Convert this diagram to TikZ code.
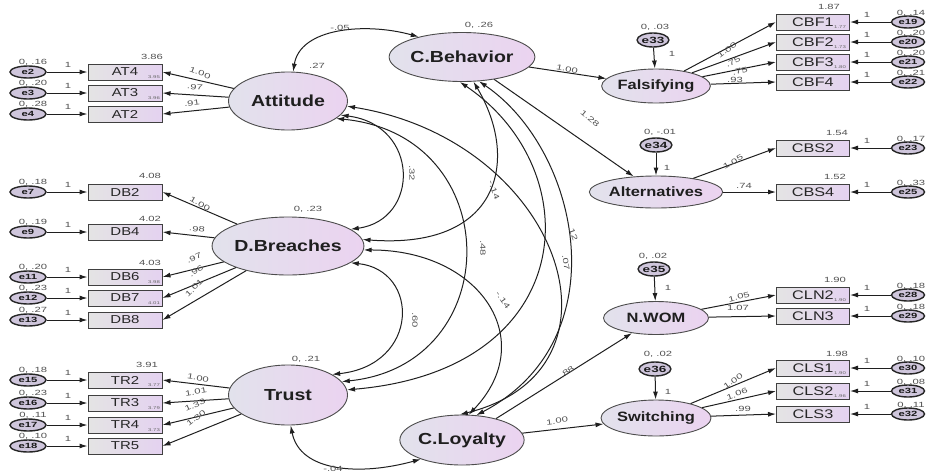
\documentclass[tikz,border=0pt]{standalone}
\usepackage{fontspec}
\setmainfont{Liberation Sans}
\newfontfamily\latfont[FakeStretch=1.22]{Liberation Sans}
\newfontfamily\boxfont[FakeStretch=1.3]{Liberation Sans}
\newfontfamily\numfont[FakeStretch=1.5]{Liberation Sans}
\usetikzlibrary{shapes.geometric,arrows.meta}
\definecolor{latL}{HTML}{E2E2EC}
\definecolor{latR}{HTML}{EBD3F0}
\definecolor{boxL}{HTML}{E4E4E4}
\definecolor{boxR}{HTML}{E4D2F0}
\definecolor{errfill}{HTML}{CFC6DC}
\begin{document}
\begin{tikzpicture}[x=1pt,y=-1pt,
  latent/.style={ellipse, draw=black!70, line width=0.9pt, left color=latL, right color=latR,
    inner sep=0pt, text=black!88, font=\latfont\bfseries\fontsize{16}{16}\selectfont},
  latsm/.style={latent, minimum width=105pt, minimum height=34pt, font=\latfont\bfseries\fontsize{13.5}{13.5}\selectfont},
  obs/.style={rectangle, draw=black!75, line width=1pt, left color=boxL, right color=boxR,
    minimum width=74pt, minimum height=16pt, inner sep=0pt, text=black!85,
    font=\boxfont\fontsize{11.5}{11.5}\selectfont},
  obsR/.style={obs, minimum width=73pt, font=\boxfont\fontsize{12.5}{12.5}\selectfont},
  err/.style={ellipse, draw=black!85, line width=1.4pt, fill=errfill, minimum width=36pt,
    minimum height=12pt, inner sep=0pt, text=black!90, font=\numfont\bfseries\fontsize{7.5}{7.5}\selectfont},
  errR/.style={err, minimum width=33pt},
  errL/.style={err, minimum width=30pt, minimum height=14pt, font=\numfont\bfseries\fontsize{9}{9}\selectfont},
  num/.style={inner sep=0pt, text=black!68, font=\numfont\fontsize{7.5}{7.5}\selectfont},
  tiny/.style={inner sep=0pt, text=black!60, font=\numfont\fontsize{4}{4}\selectfont},
  path/.style={draw=black!88, line width=1pt, -{Latex[length=8pt,width=5pt]}},
  cov/.style={draw=black!88, line width=1pt, {Latex[length=8pt,width=5pt]}-{Latex[length=8pt,width=5pt]}}
]
\useasboundingbox (0,0) rectangle (937,472);
\fill[white] (0,0) rectangle (937,472);

% ---------- latent constructs ----------
\node[latent, minimum width=119pt, minimum height=58pt] (att)  at (288,101) {Attitude};
\node[latent, minimum width=119pt, minimum height=49pt] (cbeh) at (462,57)  {C.Behavior};
\node[latent, minimum width=117pt, minimum height=58pt] (dbr)  at (288,246) {D.Breaches};
\node[latent, minimum width=119pt, minimum height=60pt] (tru)  at (288,395) {Trust};
\node[latent, minimum width=119pt, minimum height=50pt] (cloy) at (462,440) {C.Loyalty};
\node[latsm] (fals) at (656,86)  {Falsifying};
\node[latsm, minimum height=32pt] (alt)  at (656,192) {Alternatives};
\node[latsm, minimum height=33pt] (nwom) at (656,318) {N.WOM};
\node[latsm, minimum height=36pt] (swi)  at (656,418) {Switching};

% variances of the latent constructs
\node[num] at (317,66)  {.27};
\node[num] at (479,25)  {0, .26};
\node[num] at (308,209) {0, .23};
\node[num] at (306,359) {0, .21};

% ---------- left indicators ----------
\foreach \nm/\yy/\er/\vv in {AT4/72/e2/{0, .16}, AT3/93/e3/{0, .20}, AT2/114/e4/{0, .28},
    DB2/192/e7/{0, .18}, DB4/232/e9/{0, .19}, DB6/277/e11/{0, .20}, DB7/298/e12/{0, .23}, DB8/320/e13/{0, .27},
    TR2/380/e15/{0, .18}, TR3/403/e16/{0, .23}, TR4/425/e17/{0, .11}, TR5/446/e18/{0, .10}} {
  \node[obs] (\nm) at (125,\yy) {\nm};
  \node[err] (\er) at (28,\yy) {\er};
  \node[num] at (33,\yy-10) {\vv};
  \node[num] at (68,\yy-7) {1};
  \draw[path] (\er) -- (\nm);
}
% intercepts
\node[num] at (152,57)  {3.86};
\node[num] at (150,176) {4.08};
\node[num] at (150,219) {4.02};
\node[num] at (150,263) {4.03};
\node[num] at (147,365) {3.91};
\foreach \yy/\vv in {72/3.95, 93/3.96, 277/3.98, 298/4.01, 380/3.77, 403/3.79, 425/3.73}
  \node[tiny] at (154,\yy+5) {\vv};

% loadings, left side
\foreach \nm in {AT4,AT3,AT2} \draw[path] (att) -- (\nm.east);
\foreach \nm in {DB2,DB4,DB6,DB7,DB8} \draw[path] (dbr) -- (\nm.east);
\foreach \nm in {TR2,TR3,TR4,TR5} \draw[path] (tru) -- (\nm.east);
\node[num, rotate=-20] at (200,73)  {1.00};
\node[num, rotate=-6]  at (195,87)  {.97};
\node[num, rotate=8]   at (192,103) {.91};
\node[num, rotate=-30] at (200,204) {1.00};
\node[num, rotate=-6]  at (197,229) {.98};
\node[num, rotate=25]  at (194,258) {.97};
\node[num, rotate=35]  at (196,271) {.96};
\node[num, rotate=45]  at (194,288) {1.01};
\node[num, rotate=-10] at (198,378) {1.00};
\node[num, rotate=10]  at (196,392) {1.01};
\node[num, rotate=25]  at (195,405) {1.33};
\node[num, rotate=38]  at (196,418) {1.30};

% ---------- right indicators ----------
\foreach \nm/\yy/\er/\vv in {CBF1/22/e19/{0, .14}, CBF2/42/e20/{0, .20}, CBF3/62/e21/{0, .20}, CBF4/82/e22/{0, .21},
    CBS2/148/e23/{0, .17}, CBS4/192/e25/{0, .33},
    CLN2/295/e28/{0, .18}, CLN3/316/e29/{0, .18},
    CLS1/368/e30/{0, .10}, CLS2/391/e31/{0, .08}, CLS3/414/e32/{0, .11}} {
  \node[obsR] (\nm) at (813,\yy) {\nm};
  \node[errR] (\er) at (908,\yy) {\er};
  \node[num] at (911,\yy-9) {\vv};
  \node[num] at (867,\yy-7) {1};
  \draw[path] (\er) -- (\nm);
}
\node[num] at (829,7)   {1.87};
\node[num] at (837,133) {1.54};
\node[num] at (835,177) {1.52};
\node[num] at (835,280) {1.90};
\node[num] at (837,354) {1.98};
\foreach \yy/\vv in {22/1.77, 42/1.73, 62/1.80, 295/1.90, 368/1.90, 391/1.96}
  \node[tiny] at (840,\yy+5) {\vv};

\foreach \nm in {CBF1,CBF2,CBF3,CBF4} \draw[path] (fals) -- (\nm.west);
\foreach \nm in {CBS2,CBS4} \draw[path] (alt) -- (\nm.west);
\foreach \nm in {CLN2,CLN3} \draw[path] (nwom) -- (\nm.west);
\foreach \nm in {CLS1,CLS2,CLS3} \draw[path] (swi) -- (\nm.west);
\node[num, rotate=38]  at (727,50)  {1.00};
\node[num, rotate=28]  at (733,62)  {.75};
\node[num, rotate=15]  at (740,71)  {.75};
\node[num]             at (735,80)  {.93};
\node[num, rotate=30]  at (733,162) {1.05};
\node[num]             at (744,186) {.74};
\node[num, rotate=15]  at (739,297) {1.05};
\node[num]             at (738,308) {1.07};
\node[num, rotate=35]  at (733,381) {1.00};
\node[num, rotate=20]  at (737,394) {1.06};
\node[num]             at (743,409) {.99};

% ---------- disturbances of the second-order factors ----------
\node[errL] (e33) at (653,40)  {e33};
\node[errL] (e34) at (656,145) {e34};
\node[errL] (e35) at (654,269) {e35};
\node[errL] (e36) at (655,369) {e36};
\node[num] at (655,27)  {0, .03};
\node[num] at (660,132) {0, -.01};
\node[num] at (653,256) {0, .02};
\node[num] at (658,354) {0, .02};
\draw[path] (e33) -- (fals);
\draw[path] (e34) -- (alt);
\draw[path] (e35) -- (nwom);
\draw[path] (e36) -- (swi);
\node[num] at (672,54)  {1};
\node[num] at (667,168) {1};
\node[num] at (668,288) {1};
\node[num] at (668,392) {1};

% ---------- structural paths ----------
\draw[path] (cbeh) -- (fals);
\draw[path] (cbeh) -- (alt);
\draw[path] (cloy) -- (nwom);
\draw[path] (cloy) -- (swi);
\node[num, rotate=-12] at (567,69)  {1.00};
\node[num, rotate=-40] at (590,119) {1.28};
\node[num, rotate=38]  at (567,372) {.88};
\node[num, rotate=8]   at (557,421) {1.00};

% ---------- covariances ----------
\draw[cov] (att.80) .. controls (300,28) and (365,22) .. (cbeh.155);
\draw[cov] (att.-15) .. controls (420,125) and (420,220) .. (dbr.15);
\draw[cov] (dbr.-15) .. controls (420,270) and (420,365) .. (tru.25);
\draw[cov] (att.-20) .. controls (507,135) and (507,365) .. (tru.14);
\draw[cov] (att.-5) .. controls (560,140) and (640,370) .. (cloy.95);
\draw[cov] (cbeh.-65) .. controls (520,160) and (500,250) .. (dbr.5);
\draw[cov] (cbeh.-95) .. controls (590,170) and (580,370) .. (tru.5);
\draw[cov] (cbeh.-55) .. controls (580,150) and (620,340) .. (cloy.60);
\draw[cov] (dbr.-3) .. controls (480,250) and (540,340) .. (cloy.75);
\draw[cov] (tru.-85) .. controls (300,472) and (360,476) .. (cloy.205);
\node[num] at (340,28) {-.05};
\node[num, rotate=-90] at (412,173) {.32};
\node[num, rotate=-70] at (494,190) {-.14};
\node[num, rotate=-90] at (483,248) {.48};
\node[num, rotate=-90] at (415,320) {.60};
\node[num, rotate=-55] at (503,300) {-.14};
\node[num, rotate=-70] at (573,233) {.12};
\node[num, rotate=-80] at (566,263) {.07};
\node[num] at (333,469) {-.04};
\end{tikzpicture}
\end{document}
